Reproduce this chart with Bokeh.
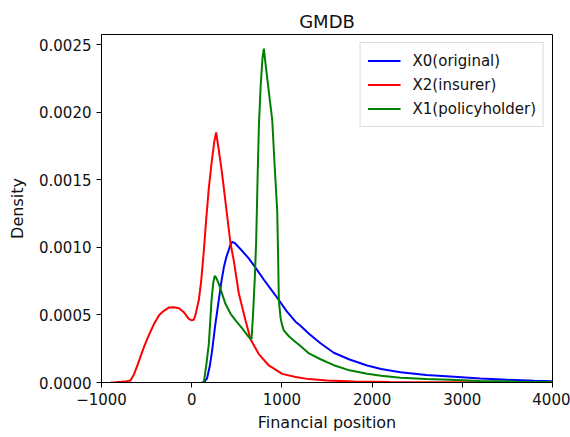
from bokeh.plotting import figure
from bokeh.models import Range1d, FixedTicker, PrintfTickFormatter, Legend, LegendItem
from bokeh.embed import file_html
from bokeh.resources import INLINE

# ---- data ----
x0_x = [110, 134, 170, 200, 227, 260, 300, 330, 356, 385, 411, 430, 449, 480, 550, 630, 707, 800, 900,
        966, 1050, 1151, 1206, 1300, 1428, 1575, 1750, 1945, 2100, 2315, 2600, 2869, 3200, 3500, 3800, 4000]
x0_y = [0, 0, 0.00003, 0.00012, 0.00024, 0.00042, 0.00061, 0.00075, 0.00085, 0.00093, 0.00098, 0.00102,
        0.00104, 0.00103, 0.00098, 0.00092, 0.00085, 0.00076, 0.00067, 0.00061, 0.00053, 0.00045, 0.00042,
        0.00036, 0.00029, 0.00022, 0.00017, 0.000126, 0.0001, 0.000076, 0.000055, 0.000044, 0.00003,
        0.00002, 0.000013, 0.00001]

x2_x = [-900, -850, -780, -720, -678, -640, -600, -531, -475, -420, -360, -309, -250, -198, -140, -88, -32,
        0, 23, 42, 79, 105, 134, 160, 190, 220, 250, 271, 300, 330, 356, 390, 430, 467, 522, 596, 652, 744,
        855, 1003, 1151, 1300, 1500, 1800, 2200, 2600, 3000, 3500, 4000]
x2_y = [0, 0.000002, 0.000005, 0.00001, 0.000015, 0.00006, 0.00013, 0.00026, 0.00035, 0.00043, 0.0005,
        0.00053, 0.000555, 0.000557, 0.00055, 0.00052, 0.00047, 0.00046, 0.000464, 0.0005, 0.00061,
        0.00075, 0.00097, 0.0012, 0.00144, 0.00162, 0.00178, 0.00185, 0.00172, 0.00158, 0.00144, 0.00125,
        0.00103, 0.0009, 0.00066, 0.00046, 0.00032, 0.00021, 0.000126, 0.000064, 0.00004, 0.000025,
        0.000015, 0.000008, 0.000004, 0.000002, 0.000001, 0, 0]

x1_x = [110, 134, 160, 190, 220, 240, 256, 275, 300, 340, 375, 430, 486, 560, 633, 663, 680, 700, 715, 730,
        745, 765, 785, 800, 820, 850, 893, 920, 948, 959, 966, 985, 1000, 1021, 1080, 1151, 1206, 1300,
        1428, 1575, 1750, 1945, 2100, 2315, 2600, 2869, 3200, 3600, 4000]
x1_y = [0, 0, 0.00012, 0.000286, 0.00061, 0.00074, 0.00079, 0.00077, 0.00073, 0.00065, 0.00058, 0.00051,
        0.00046, 0.0004, 0.000335, 0.00032, 0.0005, 0.00078, 0.00105, 0.0015, 0.0019, 0.0022, 0.0024,
        0.00247, 0.00235, 0.00218, 0.00194, 0.0016, 0.00127, 0.0009, 0.00061, 0.00048, 0.00043, 0.000385,
        0.00034, 0.0003, 0.00027, 0.000215, 0.000172, 0.000128, 0.00009, 0.000064, 0.00005, 0.000035,
        0.000025, 0.00002, 0.000012, 0.000007, 0.000004]

series_names = ["X0(original)", "X2(insurer)", "X1(policyholder)"]
series_colors = ["#0000ff", "#ff0000", "#008000"]

x_ticks = [-1000, 0, 1000, 2000, 3000, 4000]
y_ticks = [0.0, 0.0005, 0.0010, 0.0015, 0.0020, 0.0025]

FONT = "DejaVu Sans"

p = figure(width=570, height=437, output_backend="svg", toolbar_location=None,
           x_range=Range1d(-1000, 4000), y_range=Range1d(0, 0.002574),
           title="GMDB", min_border_left=101, min_border_right=18,
           min_border_top=34, min_border_bottom=55)

p.title.align = "center"
p.title.text_font = FONT
p.title.text_font_size = "18px"
p.title.text_font_style = "normal"
p.title.text_color = "#111111"
p.title.standoff = 6

p.xgrid.visible = False
p.ygrid.visible = False
p.outline_line_color = "black"
p.outline_line_width = 1
p.background_fill_color = "white"
p.border_fill_color = "white"

for ax in (p.xaxis[0], p.yaxis[0]):
    ax.major_tick_out = 5
    ax.major_tick_in = 0
    ax.minor_tick_line_color = None
    ax.axis_line_color = "black"
    ax.major_tick_line_color = "black"
    ax.major_label_text_font = FONT
    ax.major_label_text_font_size = "15px"
    ax.major_label_text_color = "#111111"
    ax.axis_label_text_font = FONT
    ax.axis_label_text_font_size = "16px"
    ax.axis_label_text_font_style = "normal"
    ax.axis_label_text_color = "#111111"
    ax.major_label_standoff = 5

p.xaxis.ticker = FixedTicker(ticks=x_ticks)
p.xaxis.major_label_overrides = {-1000: "\u22121000"}
p.yaxis.ticker = FixedTicker(ticks=y_ticks)
p.yaxis.formatter = PrintfTickFormatter(format="%.4f")
p.xaxis.axis_label = "Financial position"
p.yaxis.axis_label = "Density"
p.xaxis.axis_label_standoff = 5
p.yaxis.axis_label_standoff = 9

r0 = p.line(x0_x, x0_y, line_color=series_colors[0], line_width=2)
r2 = p.line(x2_x, x2_y, line_color=series_colors[1], line_width=2)
r1 = p.line(x1_x, x1_y, line_color=series_colors[2], line_width=2)

legend = Legend(items=[LegendItem(label=series_names[0], renderers=[r0]),
                       LegendItem(label=series_names[1], renderers=[r2]),
                       LegendItem(label=series_names[2], renderers=[r1])],
                location="top_right")
legend.label_text_font = FONT
legend.label_text_font_size = "15px"
legend.label_text_color = "#111111"
legend.glyph_width = 33
legend.glyph_height = 21
legend.label_height = 21
legend.spacing = 3
legend.padding = 7
legend.margin = 8
legend.label_standoff = 12
legend.border_line_color = "#bbbbbb"
legend.border_line_width = 1
legend.background_fill_color = "white"
legend.background_fill_alpha = 1.0
p.add_layout(legend)

open("out.html", "w").write(file_html(p, INLINE))
